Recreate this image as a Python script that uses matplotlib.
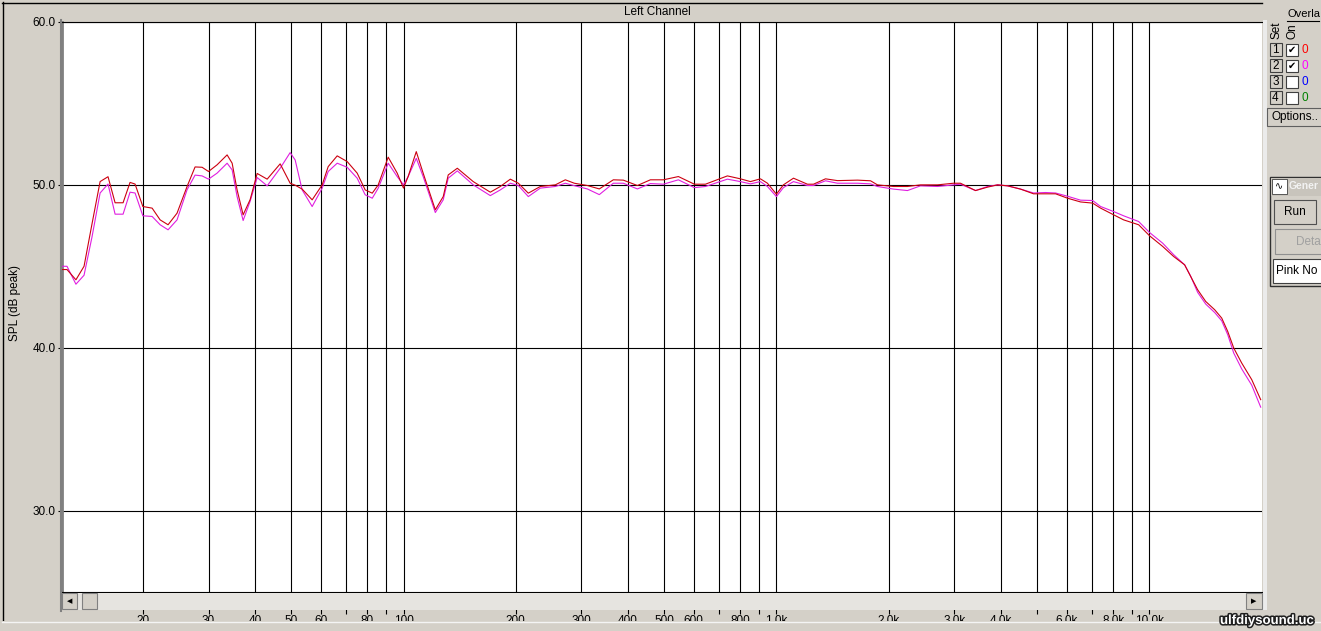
import matplotlib
matplotlib.use('Agg')
import matplotlib.pyplot as plt
from matplotlib.patches import Rectangle
from matplotlib.lines import Line2D
from matplotlib.ticker import FixedLocator, FixedFormatter, NullFormatter
import matplotlib.patheffects as pe

plt.rcParams['font.family'] = ['Liberation Sans', 'DejaVu Sans']

# ---------------- data ----------------
freq = [12.14, 12.52, 13.23, 13.91, 14.61, 15.36, 16.13, 16.85, 17.70, 18.48,
        19.06, 20.0, 21.18, 22.25, 23.37, 24.70, 26.28, 27.61, 28.83, 30.0,
        31.63, 33.65, 34.71, 35.79, 37.15, 38.80, 40.51, 43.09, 46.69, 49.66,
        51.22, 53.48, 56.89, 60.52, 62.81, 66.40, 70.62, 75.12, 78.92, 82.45,
        85.56, 90.98, 96.18, 100.0, 102.9, 108.2, 112.9, 121.7, 127.8, 131.8,
        139.4, 153.8, 170.9, 181.8, 193.4, 203.2, 216.1, 232.7, 255.3, 271.6,
        287.1, 311.1, 335.0, 365.3, 388.6, 423.8, 459.2, 497.6, 545.9, 602.6,
        645.0, 738.8, 800.6, 851.8, 906.0, 946.0, 1000, 1044, 1111, 1211,
        1257, 1354, 1458, 1650, 1788, 1866, 2060, 2246, 2434, 2704,
        2985, 3116, 3419, 3683, 3917, 4166, 4514, 4892, 5271, 5605,
        6036, 6541, 7045, 7402, 8022, 8531, 9361, 10018, 10857, 11622,
        12435, 12904, 13476, 14164, 14972, 15635, 16226, 16840, 17688, 18818,
        19890]

set1_red = [44.80, 44.80, 44.17, 45.00, 47.60, 50.20, 50.50, 48.90, 48.90, 50.15,
            50.05, 48.67, 48.57, 47.85, 47.55, 48.26, 49.90, 51.10, 51.08, 50.82,
            51.23, 51.84, 51.33, 49.69, 48.16, 49.10, 50.70, 50.35, 51.29, 50.10,
            49.98, 49.74, 49.08, 50.00, 51.12, 51.78, 51.43, 50.72, 49.69, 49.49,
            50.00, 51.70, 50.72, 49.80, 50.51, 52.04, 50.72, 48.47, 49.28, 50.61,
            51.02, 50.20, 49.55, 49.90, 50.35, 50.10, 49.49, 49.90, 50.00, 50.31,
            50.10, 49.96, 49.75, 50.31, 50.29, 49.96, 50.31, 50.31, 50.51, 50.04,
            50.04, 50.55, 50.37, 50.20, 50.37, 50.10, 49.43, 50.00, 50.41, 50.04,
            50.04, 50.37, 50.26, 50.29, 50.25, 50.00, 49.90, 49.90, 50.00, 50.00,
            50.10, 50.10, 49.65, 49.86, 50.00, 49.94, 49.74, 49.45, 49.45, 49.45,
            49.18, 48.95, 48.88, 48.57, 48.16, 47.85, 47.55, 46.87, 46.22, 45.60,
            45.09, 44.38, 43.56, 42.84, 42.33, 41.82, 41.00, 39.98, 39.06, 38.04,
            36.81]

set2_magenta = [45.00, 45.00, 43.90, 44.45, 46.80, 49.50, 50.05, 48.20, 48.20, 49.55,
                49.50, 48.10, 48.06, 47.55, 47.24, 47.85, 49.70, 50.60, 50.55, 50.35,
                50.72, 51.33, 50.92, 49.28, 47.81, 49.00, 50.45, 49.94, 51.02, 51.98,
                51.53, 49.69, 48.67, 49.80, 50.82, 51.33, 51.08, 50.41, 49.39, 49.18,
                49.80, 51.33, 50.51, 50.00, 50.51, 51.63, 50.51, 48.30, 49.08, 50.41,
                50.86, 50.00, 49.34, 49.69, 50.10, 49.96, 49.28, 49.80, 49.90, 50.10,
                49.95, 49.75, 49.40, 50.10, 50.10, 49.75, 50.08, 50.04, 50.31, 49.83,
                49.90, 50.35, 50.20, 50.06, 50.20, 49.90, 49.28, 49.83, 50.20, 49.96,
                49.96, 50.25, 50.10, 50.10, 50.06, 49.90, 49.74, 49.65, 49.94, 49.90,
                50.00, 50.04, 49.65, 49.90, 50.00, 49.94, 49.74, 49.50, 49.53, 49.50,
                49.30, 49.06, 49.04, 48.67, 48.36, 48.10, 47.75, 47.07, 46.42, 45.71,
                45.09, 44.40, 43.40, 42.68, 42.16, 41.65, 40.80, 39.67, 38.70, 37.70,
                36.35]

x_major = [20, 30, 40, 50, 60, 80, 100, 200, 300, 400, 500, 600, 800,
           1000, 2000, 3000, 4000, 6000, 8000, 10000]
x_major_labels = ['20', '30', '40', '50', '60', '80', '100', '200', '300', '400',
                  '500', '600', '800', '1.0k', '2.0k', '3.0k', '4.0k', '6.0k',
                  '8.0k', '10.0k']
x_minor = [70, 90, 700, 900, 5000, 7000, 9000]
y_ticks = [30, 40, 50, 60]
y_labels = ['30.0', '40.0', '50.0', '60.0']

title_text = 'Left Channel'
y_title = 'SPL (dB peak)'
overlay_colors = ['#ff0000', '#ff00ff', '#0000ff', '#008000']
overlay_checked = [True, True, False, False]

# ---------------- layout helpers ----------------
W, H = 1321, 631
BG = '#d4d0c8'


def fx(px):
    return px / W


def fy(py):
    return 1 - py / H


def frect(x0, y0, x1, y1, **kw):
    r = Rectangle((fx(x0), fy(y1)), (x1 - x0) / W, (y1 - y0) / H,
                  transform=fig.transFigure, **kw)
    fig.add_artist(r)
    return r


def fline(xs, ys, **kw):
    ln = Line2D([fx(v) for v in xs], [fy(v) for v in ys],
                transform=fig.transFigure, **kw)
    fig.add_artist(ln)
    return ln


fig = plt.figure(figsize=(W / 100, H / 100), dpi=100, facecolor=BG)

ax = fig.add_axes([fx(62), fy(592), 1200 / W, 570 / H])
ax.set_facecolor('white')
ax.set_xscale('log')
ax.set_xlim(12.14, 20050)
ax.set_ylim(25, 60)

ax.xaxis.set_major_locator(FixedLocator(x_major))
ax.xaxis.set_major_formatter(FixedFormatter(x_major_labels))
ax.xaxis.set_minor_locator(FixedLocator(x_minor))
ax.xaxis.set_minor_formatter(NullFormatter())
ax.yaxis.set_major_locator(FixedLocator(y_ticks))
ax.yaxis.set_major_formatter(FixedFormatter(y_labels))

ax.set_axisbelow(True)
ax.grid(True, which='both', axis='x', color='black', lw=0.8)
ax.grid(True, which='major', axis='y', color='black', lw=0.8)

ax.tick_params(axis='x', which='both', direction='out', length=16, width=0.8,
               pad=0.5, labelsize=8.5, color='black', labelcolor='black')
ax.tick_params(axis='y', which='both', direction='out', length=3, width=0.8,
               pad=1.5, labelsize=8.5, color='black')

for s in ('top', 'bottom'):
    ax.spines[s].set_color('black')
    ax.spines[s].set_linewidth(0.8)
ax.spines['left'].set_color('#808080')
ax.spines['left'].set_linewidth(2.0)
ax.spines['right'].set_visible(False)

ax.plot(freq, set2_magenta, color='#e01ee0', lw=0.8, zorder=3)
ax.plot(freq, set1_red, color='#cc0010', lw=0.8, zorder=4)

# ---------------- window chrome ----------------
fline([2, 1262], [2.5, 2.5], color='black', lw=1.0, zorder=5)
fline([2.5, 2.5], [2, 622], color='black', lw=1.0, zorder=5)
fig.text(fx(657), fy(12), title_text, ha='center', va='center',
         fontsize=8.5, color='black')
fig.text(fx(15), fy(303), y_title, rotation=90, ha='center', va='center',
         fontsize=8.5, color='black')

# light strip right of plot
frect(1262.5, 20, 1267, 610, facecolor='#ebebeb', edgecolor='none', zorder=2)

# scrollbar
frect(62, 592.5, 1262, 610, facecolor='#e6e4e0', edgecolor='none', zorder=5)
fline([61, 61], [20, 611], color='#808080', lw=1.5, zorder=6)
for (a, b) in [(62, 77), (82, 97), (1246, 1262)]:
    frect(a, 593, b, 609, facecolor=BG, edgecolor='#808080', lw=0.8, zorder=6)
fig.text(fx(69.5), fy(601), '\u25C0', ha='center', va='center', fontsize=5,
         color='black', zorder=7, family='DejaVu Sans')
fig.text(fx(1254), fy(601), '\u25B6', ha='center', va='center', fontsize=5,
         color='black', zorder=7, family='DejaVu Sans')

# bottom strip that hides the lower part of the frequency labels
frect(0, 621, W, H, facecolor=BG, edgecolor='none', zorder=8)
fline([2, W], [621.5, 621.5], color='#f4f4f4', lw=1.0, zorder=9)

# ---------------- right-hand overlay panel ----------------
fig.text(fx(1287), fy(14), 'Overla', ha='left', va='center', fontsize=8,
         color='black')
fline([1287, 1319], [20.5, 20.5], color='black', lw=0.8, zorder=5)
fig.text(fx(1277), fy(30), 'Set', rotation=90, ha='center', va='center',
         fontsize=8.5, color='black')
fig.text(fx(1292), fy(31), 'On', rotation=90, ha='center', va='center',
         fontsize=8.5, color='black')
for i in range(4):
    yc = 50 + 16 * i
    frect(1269.5, yc - 7, 1281.5, yc + 6, facecolor=BG, edgecolor='#404040',
          lw=0.8, zorder=5)
    fig.text(fx(1275.5), fy(yc), str(i + 1), ha='center', va='center',
             fontsize=8.5, color='black', zorder=6)
    frect(1286, yc - 6, 1298, yc + 6, facecolor='white', edgecolor='#404040',
          lw=0.8, zorder=5)
    if overlay_checked[i]:
        fig.text(fx(1292), fy(yc), '\u2714', ha='center', va='center',
                 fontsize=7, color='black', zorder=6, family='DejaVu Sans')
    fig.text(fx(1305), fy(yc), '0', ha='center', va='center', fontsize=8.5,
             color=overlay_colors[i], zorder=6)

frect(1267, 108, 1325, 126, facecolor=BG, edgecolor='#606060', lw=0.8, zorder=5)
fig.text(fx(1271), fy(117), 'Options..', ha='left', va='center', fontsize=8.5,
         color='black', zorder=6)

# generator panel
frect(1269.5, 176.5, 1325, 286, facecolor=BG, edgecolor='#303030', lw=1.0, zorder=5)
frect(1271, 178, 1325, 196, facecolor='#c8c4bc', edgecolor='none', zorder=5)
frect(1272, 179, 1287, 194, facecolor='white', edgecolor='#404040', lw=0.6, zorder=6)
fig.text(fx(1279.5), fy(186.5), '\u223f', ha='center', va='center', fontsize=7,
         color='black', zorder=7, family='DejaVu Sans')
fig.text(fx(1289), fy(186), 'Gener', ha='left', va='center', fontsize=7.5,
         fontweight='bold', color='#f2f2f2', zorder=7)
frect(1274, 200, 1316, 224, facecolor=BG, edgecolor='#505050', lw=0.8, zorder=6)
fig.text(fx(1295), fy(212), 'Run', ha='center', va='center', fontsize=8.5,
         color='black', zorder=7)
frect(1275, 229, 1325, 254, facecolor=BG, edgecolor='#909090', lw=0.8, zorder=6)
fig.text(fx(1296), fy(242), 'Deta', ha='left', va='center', fontsize=8.5,
         color='#a0a0a0', zorder=7)
frect(1273, 259, 1325, 283, facecolor='white', edgecolor='#404040', lw=0.8, zorder=6)
fig.text(fx(1276), fy(271), 'Pink No', ha='left', va='center', fontsize=8.5,
         color='black', zorder=7)

# watermark
fig.text(fx(1220), fy(621), 'ulfdiysound.uc', ha='left', va='center',
         fontsize=9.5, fontweight='bold', color='white', zorder=10,
         path_effects=[pe.withStroke(linewidth=2.2, foreground='#202020')])

fig.savefig('out.png', dpi=100, facecolor=BG)
